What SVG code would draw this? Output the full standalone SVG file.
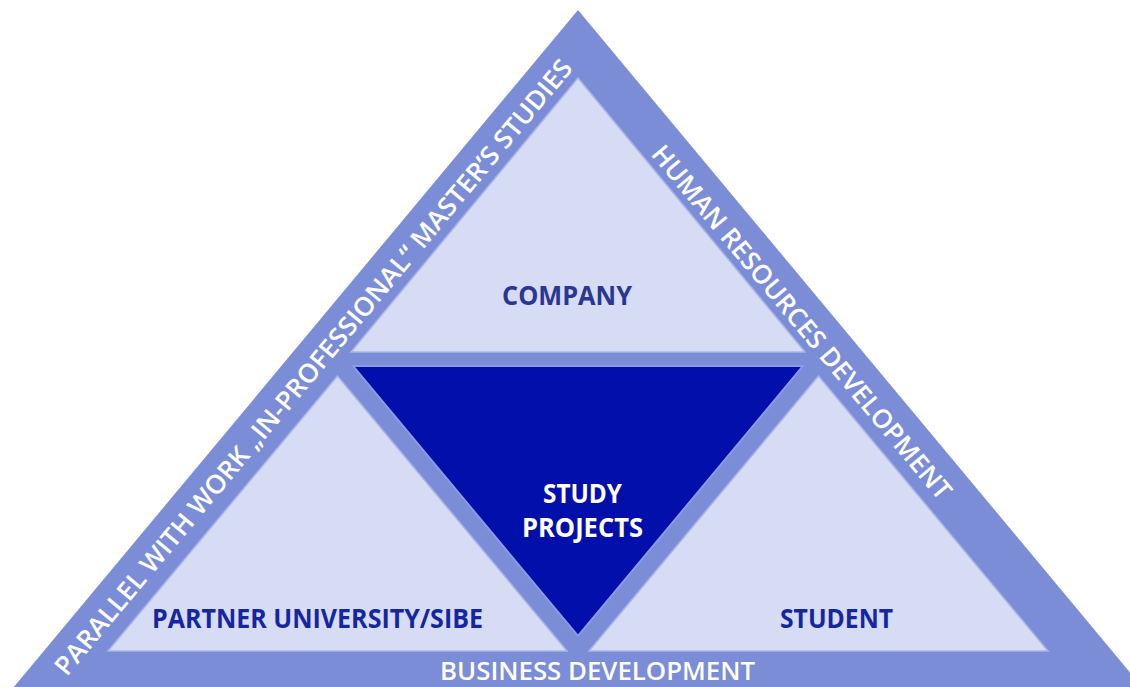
<svg xmlns="http://www.w3.org/2000/svg" width="1130" height="687" viewBox="0 0 1130 687">
<style>
.band{fill:#7A8DD6;}
.light{fill:#D6DCF4;stroke:#A9B5E8;stroke-width:1.5;}
.dark{fill:#030FAA;stroke:#8A9BE4;stroke-width:2;}
.lbl{font-family:"Open Sans","Noto Sans",sans-serif;font-weight:700;font-size:27px;text-anchor:middle;}
.navy{fill:#1526A0;}
.comp{fill:#2B3592;}
.white{fill:#FFFFFF;}
.bandtxt{font-family:"Open Sans","Noto Sans",sans-serif;font-weight:600;font-size:26px;fill:#FFFFFF;text-anchor:middle;}
</style>
<rect width="1130" height="687" fill="#FFFFFF"/>
<g id="outer-frame">
<polygon class="band" points="578,10 3,700 1153,700"/>
</g>
<g id="company">
<polygon class="light" points="578,78 351,352 805,352"/>
<text class="lbl comp" x="567" y="305" textLength="130" lengthAdjust="spacingAndGlyphs">COMPANY</text>
</g>
<g id="study-projects">
<polygon class="dark" points="353,366 803,366 578,636"/>
<text class="lbl white" x="582.5" y="503" textLength="79" lengthAdjust="spacingAndGlyphs">STUDY</text>
<text class="lbl white" x="582.5" y="537" textLength="121" lengthAdjust="spacingAndGlyphs">PROJECTS</text>
</g>
<g id="partner-university">
<polygon class="light" points="337.5,376 567,651 108,651"/>
<text class="lbl navy" x="317.5" y="628" textLength="331" lengthAdjust="spacingAndGlyphs">PARTNER UNIVERSITY/SIBE</text>
</g>
<g id="student">
<polygon class="light" points="818.5,376 1048,651 589,651"/>
<text class="lbl navy" x="836.5" y="628" textLength="113" lengthAdjust="spacingAndGlyphs">STUDENT</text>
</g>
<g id="band-labels">
<text class="bandtxt" x="597.5" y="680" textLength="315" lengthAdjust="spacingAndGlyphs">BUSINESS DEVELOPMENT</text>
<text class="bandtxt" transform="translate(313,367) rotate(-50.2)" x="0" y="9.5" textLength="792" lengthAdjust="spacingAndGlyphs">PARALLEL WITH WORK „IN-PROFESSIONAL“ MASTER’S STUDIES</text>
<text class="bandtxt" transform="translate(802,322) rotate(50.2)" x="0" y="9.5" textLength="452" lengthAdjust="spacingAndGlyphs">HUMAN RESOURCES DEVELOPMENT</text>
</g>
<g id="connectors"/>
</svg>
